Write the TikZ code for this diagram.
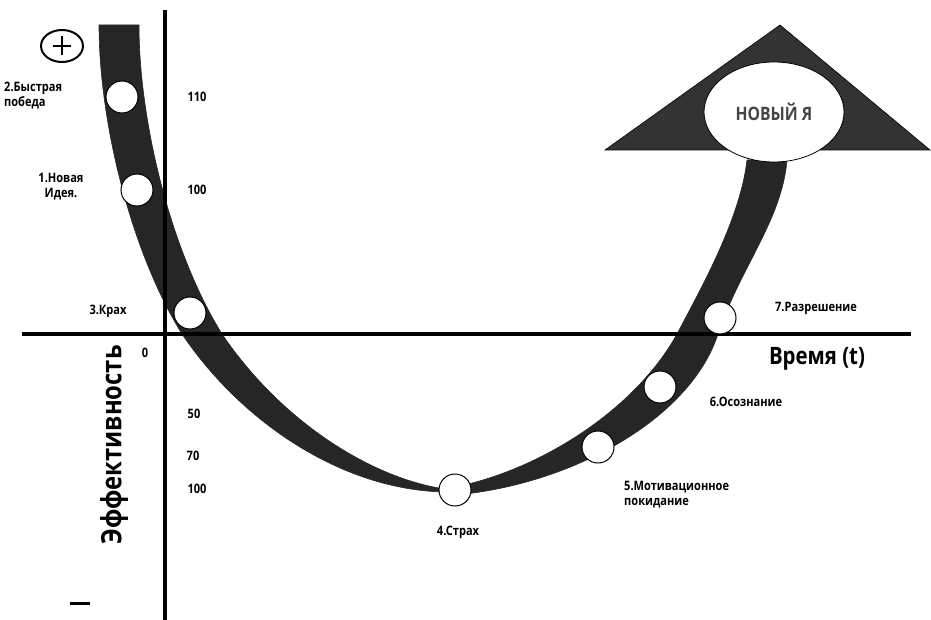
\documentclass[tikz,border=0pt]{standalone}
\usepackage{fontspec}
\setmainfont[FakeStretch=0.85]{Open Sans}
\usetikzlibrary{shapes.geometric}
\definecolor{band}{HTML}{262626}
\definecolor{tri}{HTML}{333333}
\definecolor{newme}{HTML}{454545}
\begin{document}
\begin{tikzpicture}[x=1pt,y=-1pt,
  axisline/.style={line width=4.5pt,black},
  bandfill/.style={fill=band,draw=band,line width=0.6pt},
  stage/.style={circle,draw=black,fill=white,line width=1pt,minimum size=32pt,inner sep=0pt},
  lab/.style={font=\bfseries\fontsize{13}{15}\selectfont,inner sep=0pt},
  num/.style={font=\bfseries\fontsize{13}{15}\selectfont,inner sep=0pt}]
\useasboundingbox (0,0) rectangle (931,620);

% band, left branch
\path[bandfill] (99,25) .. controls (99,120) and (130,250) .. (182,334)
  .. controls (240,420) and (340,490) .. (445,492)
  -- (445,489) .. controls (370,478) and (280,420) .. (222,334)
  .. controls (170,250) and (139,120) .. (139,25) -- cycle;
% band, right branch
\path[bandfill] (455,495) .. controls (570,485) and (690,420) .. (718,334)
  .. controls (740,268) and (782,220) .. (787,160)
  -- (747,160) .. controls (740,220) and (700,290) .. (677,334)
  .. controls (635,410) and (540,470) .. (455,487) -- cycle;

% axes
\coordinate (ytop) at (165,10);
\coordinate (ybot) at (165,620);
\coordinate (xl) at (22,334);
\coordinate (xr) at (911,334);
\draw[axisline] (ytop) -- (ybot);
\draw[axisline] (xl) -- (xr);

% arrow head and new self
\coordinate (tA) at (780,25);
\coordinate (tL) at (605,150);
\coordinate (tR) at (930,150);
\path[fill=tri,draw=black,line width=0.6pt] (tA) -- (tR) -- (tL) -- cycle;
\node[ellipse,draw=black,fill=white,line width=0.8pt,minimum width=140pt,minimum height=100pt,inner sep=0pt,
  font=\bfseries\fontsize{18.5}{20}\selectfont,text=newme] (new) at (774,112) {НОВЫЙ Я};

% stages
\node[stage] (s2) at (122,97) {};
\node[stage] (s1) at (137,190) {};
\node[stage] (s3) at (190,313) {};
\node[stage] (s4) at (455,490) {};
\node[stage] (s5) at (598,447) {};
\node[stage] (s6) at (660,387) {};
\node[stage] (s7) at (720,318) {};

% plus / minus
\node[ellipse,draw=black,line width=2pt,minimum width=42pt,minimum height=32pt,inner sep=0pt] (plus) at (62,46) {};
\draw[line width=2.5pt] ([xshift=-9pt]plus.center) -- ([xshift=9pt]plus.center);
\draw[line width=2.5pt] ([yshift=-9.5pt]plus.center) -- ([yshift=9.5pt]plus.center);
\coordinate (mL) at (70,603);
\coordinate (mR) at (90,603);
\draw[line width=3pt] (mL) -- (mR);

% labels
\node[lab,anchor=west,align=left] (l2) at (4,96) {2.Быстрая\\победа};
\node[lab,align=center] (l1) at (61,187) {1.Новая\\Идея.};
\node[lab] (l3) at (108,311) {3.Крах};
\node[lab] (l4) at (458,532) {4.Страх};
\node[lab,anchor=west,align=left] (l5) at (624,495) {5.Мотивационное\\покидание};
\node[lab] (l6) at (746,402) {6.Осознание};
\node[lab] (l7) at (816,308) {7.Разрешение};

\node[num] (n110) at (197,97) {110};
\node[num] (n100a) at (197,190) {100};
\node[num] (n0) at (145,353) {0};
\node[num] (n50) at (194,414) {50};
\node[num] (n70) at (193,456) {70};
\node[num] (n100b) at (197,489) {100};

\node[font=\bfseries\fontsize{24}{26}\selectfont,inner sep=0pt] (time) at (817,359) {Время (t)};
\node[font=\bfseries\fontsize{28}{30}\selectfont,inner sep=0pt,rotate=90] (eff) at (114,445) {Эффективность};
\end{tikzpicture}
\end{document}
